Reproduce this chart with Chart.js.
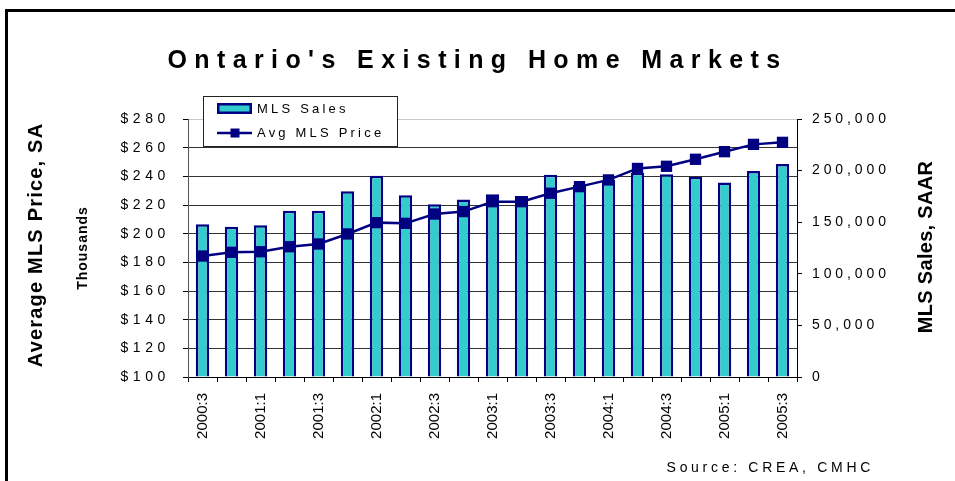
<!DOCTYPE html>
<html>
<head>
<meta charset="utf-8">
<title>Ontario's Existing Home Markets</title>
<script src="https://cdn.jsdelivr.net/npm/chart.js@4.4.1/dist/chart.umd.min.js"></script>
<style>
  html, body { margin: 0; padding: 0; background: #fff; overflow: hidden; }
  #wrap { position: relative; width: 955px; height: 481px; overflow: hidden; }
  #frame { position: absolute; left: 5px; top: 9px; width: 1000px; height: 600px;
           border-left: 3px solid #000; border-top: 3px solid #000; }
  #box { position: absolute; left: 0; top: 0; width: 955px; height: 481px; }
</style>
</head>
<body>
<div id="wrap">
  <div id="frame"></div>
  <div id="box"><canvas id="chart"></canvas></div>
</div>
<script>
// Data
const quarters = ['2000:3', '2000:4', '2001:1', '2001:2', '2001:3', '2001:4', '2002:1', '2002:2',
    '2002:3', '2002:4', '2003:1', '2003:2', '2003:3', '2003:4', '2004:1', '2004:2', '2004:3',
    '2004:4', '2005:1', '2005:2', '2005:3'];
const mlsSales = [148000, 145500, 147000, 161000, 161000, 180000, 195000, 176000, 167500, 172000,
    177000, 175500, 196000, 186000, 191000, 198000, 196500, 194000, 188500, 199500, 206500];
const avgPrice = [184.4, 187.0, 187.4, 190.9, 192.8, 199.8, 207.7, 207.2, 213.7, 215.4, 222.3,
    222.3, 228.2, 232.8, 237.5, 245.5, 247.0, 251.9, 257.2, 262.3, 263.7];

const titleText = "Ontario's Existing Home Markets";
const leftTitle = 'Average MLS Price, SA';
const leftSubTitle = 'Thousands';
const rightTitle = 'MLS Sales, SAAR';
const sourceText = 'Source: CREA, CMHC';

const NAVY = '#000080';
const CYAN = '#33CCCC';
const FONT = '"Liberation Sans", Arial, Helvetica, sans-serif';

Chart.defaults.font.family = FONT;
Chart.defaults.color = '#000';

// wrap a draw method so its text gets letter spacing
function spaced(obj, fnName, sp) {
    if (!obj || obj['_sp_' + fnName]) return;
    const orig = obj[fnName];
    obj[fnName] = function (...args) {
        const c = this.ctx;
        const prev = c.letterSpacing;
        c.letterSpacing = sp;
        orig.apply(this, args);
        c.letterSpacing = prev;
    };
    obj['_sp_' + fnName] = true;
}

function vText(ctx, text, x, y, font, sp) {
    ctx.save();
    ctx.translate(x, y);
    ctx.rotate(-Math.PI / 2);
    ctx.font = font;
    ctx.letterSpacing = sp;
    ctx.textAlign = 'center';
    ctx.textBaseline = 'middle';
    ctx.fillStyle = '#000';
    ctx.fillText(text, 0, 0);
    ctx.restore();
}

const extras = {
    id: 'extras',
    beforeDraw(chart) {
        spaced(chart.titleBlock, 'draw', '7.4px');
        spaced(chart.scales.y, 'drawLabels', '4.6px');
        spaced(chart.scales.y1, 'drawLabels', '3.9px');
    },
    afterDraw(chart) {
        const ctx = chart.ctx;
        const bar = chart.data.datasets[0];
        const line = chart.data.datasets[1];

        // axis titles
        vText(ctx, leftTitle, 36, 245, 'bold 20px ' + FONT, '1.2px');
        vText(ctx, leftSubTitle, 83, 248, 'bold 14px ' + FONT, '1px');
        vText(ctx, rightTitle, 926, 247, 'bold 20px ' + FONT, '0.3px');

        // source note
        ctx.save();
        ctx.font = '14px ' + FONT;
        ctx.letterSpacing = '3.7px';
        ctx.textAlign = 'right';
        ctx.textBaseline = 'middle';
        ctx.fillStyle = '#000';
        ctx.fillText(sourceText, 874, 468);
        ctx.restore();

        // legend box
        ctx.save();
        ctx.fillStyle = '#fff';
        ctx.fillRect(203.5, 96.5, 194, 50);
        ctx.strokeStyle = '#222';
        ctx.lineWidth = 1;
        ctx.strokeRect(203.5, 96.5, 194, 50);

        ctx.fillStyle = bar.backgroundColor;
        ctx.fillRect(217, 103, 35, 11);
        ctx.strokeStyle = bar.borderColor;
        ctx.lineWidth = 2.5;
        ctx.strokeRect(218.25, 104.25, 32.5, 8.5);

        ctx.strokeStyle = line.borderColor;
        ctx.lineWidth = 2.5;
        ctx.beginPath();
        ctx.moveTo(217, 133);
        ctx.lineTo(252, 133);
        ctx.stroke();
        ctx.fillStyle = line.borderColor;
        ctx.fillRect(230.5, 128.5, 9, 9);

        ctx.font = '13px ' + FONT;
        ctx.letterSpacing = '3.2px';
        ctx.textAlign = 'left';
        ctx.textBaseline = 'middle';
        ctx.fillStyle = '#000';
        ctx.fillText(bar.label, 257, 109);
        ctx.fillText(line.label, 257, 133);
        ctx.restore();
    }
};

const chart = new Chart(document.getElementById('chart'), {
    type: 'bar',
    data: {
        labels: quarters,
        datasets: [{
            type: 'bar',
            label: 'MLS Sales',
            data: mlsSales,
            yAxisID: 'y1',
            backgroundColor: CYAN,
            borderColor: NAVY,
            borderWidth: 2.5,
            barPercentage: 0.46,
            categoryPercentage: 1,
            order: 2
        }, {
            type: 'line',
            label: 'Avg MLS Price',
            data: avgPrice,
            yAxisID: 'y',
            borderColor: NAVY,
            backgroundColor: NAVY,
            borderWidth: 2.5,
            pointStyle: 'rect',
            pointRadius: 8,
            pointBackgroundColor: NAVY,
            pointBorderColor: NAVY,
            pointBorderWidth: 0,
            tension: 0,
            order: 1
        }]
    },
    options: {
        responsive: true,
        maintainAspectRatio: false,
        animation: false,
        layout: { padding: 0 },
        plugins: {
            legend: { display: false },
            tooltip: { enabled: false },
            title: {
                display: true,
                text: titleText,
                color: '#000',
                font: { size: 25, weight: 'bold' },
                padding: { top: 46, bottom: 43 }
            }
        },
        scales: {
            x: {
                offset: true,
                grid: { offset: true, drawOnChartArea: false, tickLength: 5, tickColor: '#000' },
                border: { color: '#000', width: 1 },
                ticks: {
                    autoSkip: false,
                    maxRotation: 90,
                    minRotation: 90,
                    padding: 11,
                    font: { size: 15 },
                    callback: function (v, i) {
                        return i % 2 === 0 ? this.getLabelForValue(v) : '';
                    }
                },
                afterFit(s) { s.height = 104; }
            },
            y: {
                position: 'left',
                min: 100,
                max: 280,
                ticks: {
                    stepSize: 20,
                    padding: 13,
                    font: { size: 14 },
                    callback: v => '$' + v
                },
                grid: {
                    color: c => (c.tick && c.tick.value === 280) ? '#c8c8c8' : '#333',
                    tickColor: '#000',
                    tickLength: 5,
                    lineWidth: 1
                },
                border: { color: '#555', width: 1 },
                afterFit(s) { s.width = 188; }
            },
            y1: {
                position: 'right',
                min: 0,
                max: 250000,
                ticks: {
                    stepSize: 50000,
                    padding: 10,
                    font: { size: 14 },
                    callback: v => v.toLocaleString('en-US')
                },
                grid: { drawOnChartArea: false, tickLength: 5, tickColor: '#000' },
                border: { color: '#000', width: 1 },
                afterFit(s) { s.width = 158; }
            }
        }
    },
    plugins: [extras]
});
</script>
</body>
</html>
